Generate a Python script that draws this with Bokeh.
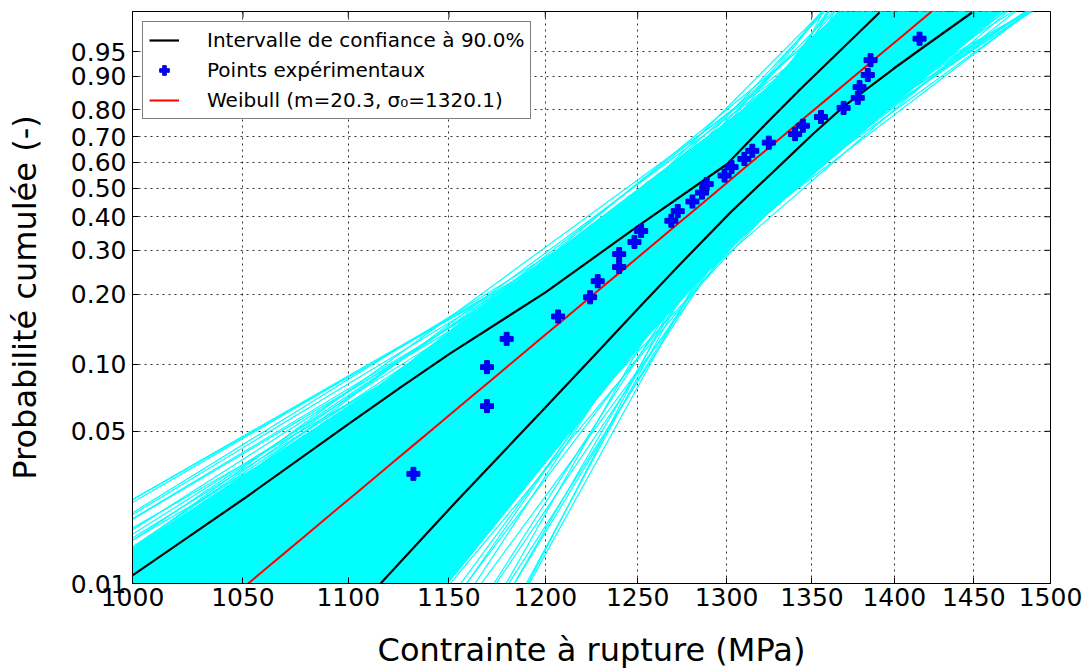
import numpy as np
from bokeh.plotting import figure
from bokeh.models import (Range1d, FixedTicker, Legend, LegendItem,
                          CustomJSTickFormatter, BasicTickFormatter)
from bokeh.embed import file_html
from bokeh.resources import INLINE

# ---------------- data ----------------
STRESS = [1132.1, 1169.5, 1169.5, 1179.7, 1206.8, 1224.0, 1228.1, 1239.8, 1239.8, 1248.2,
          1251.9, 1268.7, 1272.3, 1280.6, 1286.0, 1288.7, 1298.9, 1302.9, 1310.3, 1314.9,
          1324.5, 1340.0, 1344.6, 1355.4, 1369.0, 1377.6, 1378.7, 1383.7, 1385.4, 1415.7]
PROB = [0.032, 0.065, 0.097, 0.129, 0.161, 0.194, 0.226, 0.258, 0.290, 0.323,
        0.355, 0.387, 0.419, 0.452, 0.484, 0.516, 0.548, 0.581, 0.613, 0.645,
        0.677, 0.710, 0.742, 0.774, 0.806, 0.839, 0.871, 0.903, 0.935, 0.968]

M_FIT = 20.3
S0_FIT = 1320.1

CI_UP_STRESS = [1000.0, 1050.4, 1100.2, 1125.7, 1150.3, 1200.1, 1249.7, 1300.4, 1323.6, 1343.2, 1390.9]
CI_UP_PROB = [0.0109, 0.0246, 0.0541, 0.0789, 0.1109, 0.2034, 0.3684, 0.5931, 0.7543, 0.8656, 0.9895]
CI_LO_STRESS = [1115.8, 1155.2, 1199.8, 1226.0, 1250.0, 1271.6, 1302.3, 1331.4, 1350.3, 1369.1,
                1399.5, 1415.0, 1448.9]
CI_LO_PROB = [0.0100, 0.0247, 0.0637, 0.1087, 0.1733, 0.2557, 0.4146, 0.5895, 0.7085, 0.8113,
              0.9174, 0.9514, 0.9895]

# bootstrap Weibull lines: slope m and ln(-ln(1-P)) value at SIGMA_REF
SIGMA_REF = 1305.0
BOOT_M = [13.8, 14.1, 14.4, 14.7, 15.0, 15.3, 15.7, 16.1, 16.5, 17.0, 17.4, 18.0,
          13.9, 14.6, 15.0, 15.5, 16.3, 17.0, 17.7, 19.0, 20.0, 22.0, 24.4, 26.0, 29.0,
          14.0, 14.3, 14.8, 15.3, 15.6, 16.2, 16.8, 17.4, 17.7, 18.5, 15.6, 16.5, 18.5, 19.1,
          26, 28, 30, 32, 33, 35, 36, 37, 38, 40, 42, 43, 45, 44, 47,
          21, 23.8, 26, 29, 33, 38,
          18.4, 18, 20, 21, 22, 24, 25, 28, 30, 32, 35,
          19, 20.5, 22, 24, 26, 23, 27, 21, 19.5, 25, 20, 24, 27, 22]
BOOT_T = [-0.03, 0.02, -0.08, 0.05, -0.12, 0.0, -0.05, 0.08, -0.10, 0.12, 0.0, 0.18,
          0.0, -0.02, 0.15, 0.10, 0.20, 0.30, 0.485, 0.50, 0.55, 0.50, 0.586, 0.50, 0.42,
          -0.28, -0.33, -0.39, -0.35, -0.48, -0.56, -0.48, -0.70, -0.78, -0.65, -0.519, -0.62, -0.88, -0.837,
          -0.60, -0.75, -0.70, -0.80, -0.60, -0.45, -0.80, -0.35, -0.55, -0.70, -0.50, -0.25, -0.45, -0.60, -0.30,
          -1.0, -0.969, -1.0, -0.95, -0.9, -0.8,
          0.31, 0.45, 0.40, 0.30, 0.40, 0.25, 0.45, 0.30, 0.37, 0.20, 0.10,
          0.2, 0.1, -0.1, -0.3, -0.45, 0.15, 0.0, -0.25, -0.4, -0.2, -0.85, -0.9, -0.85, -0.95]
# dense core of the bootstrap fan
CORE_M = [16.0, 18.0, 30.0, 18.4, 26.0, 21.0, 26.0]
CORE_T = [0.04, -0.50, -0.80, 0.42, 0.35, -0.95, -0.95]

X_TICKS = [1000, 1050, 1100, 1150, 1200, 1250, 1300, 1350, 1400, 1450, 1500]
Y_TICK_PROBS = [0.01, 0.05, 0.10, 0.20, 0.30, 0.40, 0.50, 0.60, 0.70, 0.80, 0.90, 0.95]


def wb(p):
    p = np.asarray(p, dtype=float)
    return np.log(-np.log(1.0 - p))


FONT = "DejaVu Sans"
y_ticks = [float(v) for v in wb(Y_TICK_PROBS)]
xt = FixedTicker(ticks=X_TICKS, minor_ticks=[])
yt = FixedTicker(ticks=y_ticks, minor_ticks=[])
x_range = Range1d(1000, 1500)
y_range = Range1d(float(wb(0.01)), float(wb(0.99)))

p = figure(width=1083, height=672, x_axis_type="log",
           x_range=x_range, y_range=y_range,
           output_backend="svg", toolbar_location=None,
           min_border_left=132, min_border_right=33, min_border_top=11, min_border_bottom=89)
p.outline_line_color = "black"
p.outline_line_width = 1
p.background_fill_color = "white"

# bootstrap fan
grid = np.geomspace(1000, 1500, 300)
core = np.array([t + m * np.log(grid / SIGMA_REF) for m, t in zip(CORE_M, CORE_T)])
p.varea(x=grid, y1=core.min(axis=0), y2=core.max(axis=0), fill_color="#00ffff", fill_alpha=1)
xs, ys = [], []
xe = np.array([x_range.start, x_range.end], dtype=float)
for m, t in zip(BOOT_M, BOOT_T):
    xs.append(list(xe))
    ys.append(list(t + m * np.log(xe / SIGMA_REF)))
p.multi_line(xs=xs, ys=ys, line_color="#00ffff", line_width=1.2)

# confidence interval
ci_up = p.line(CI_UP_STRESS, wb(CI_UP_PROB), line_color="black", line_width=2.2)
p.line(CI_LO_STRESS, wb(CI_LO_PROB), line_color="black", line_width=2.2)

# fitted Weibull
sx = np.geomspace(1000, 1500, 50)
red = p.line(sx, M_FIT * np.log(sx / S0_FIT), line_color="#ff0000", line_width=2)

# experimental points
pts = p.scatter(STRESS, wb(PROB), marker="plus", size=13, fill_color="#0000ff",
                line_color="#0000cc", line_width=1)

# inward ticks on the top and right frame edges
p.scatter(X_TICKS, [y_range.end] * len(X_TICKS), marker="dash", angle=np.pi / 2, size=12,
          line_color="black", line_width=1)
p.scatter([x_range.end] * len(y_ticks), y_ticks, marker="dash", size=12,
          line_color="black", line_width=1)

# axes
xa = p.xaxis[0]
xa.ticker = xt
xa.formatter = BasicTickFormatter(use_scientific=False)
ya = p.yaxis[0]
ya.ticker = yt
ya.formatter = CustomJSTickFormatter(code="return (1 - Math.exp(-Math.exp(tick))).toFixed(2);")
for ax in (xa, ya):
    ax.major_tick_in = 6
    ax.major_tick_out = 0
    ax.minor_tick_line_color = None
    ax.axis_line_color = "black"
    ax.major_tick_line_color = "black"
    ax.major_label_text_font = FONT
    ax.major_label_text_font_size = "25px"
    ax.major_label_text_color = "black"
    ax.axis_label_text_font = FONT
    ax.axis_label_text_font_size = "32px"
    ax.axis_label_text_font_style = "normal"
    ax.axis_label_text_color = "black"
xa.axis_label = "Contrainte à rupture (MPa)"
ya.axis_label = "Probabilité cumulée (-)"
xa.major_label_standoff = 4
xa.axis_label_standoff = 22
ya.major_label_standoff = 6
ya.axis_label_standoff = 24

p.xgrid.ticker = xt
p.ygrid.ticker = yt
for g in (p.xgrid[0], p.ygrid[0]):
    g.grid_line_color = "black"
    g.grid_line_dash = "2 4"
    g.grid_line_width = 1
    g.grid_line_alpha = 0.8

legend = Legend(items=[
    LegendItem(label="Intervalle de confiance à 90.0%", renderers=[ci_up]),
    LegendItem(label="Points expérimentaux", renderers=[pts]),
    LegendItem(label="Weibull (m=20.3, σ₀=1320.1)", renderers=[red]),
], location="top_left", margin=10, padding=6, spacing=6, glyph_width=30, glyph_height=24,
    label_standoff=28, label_height=24, label_text_font=FONT, label_text_font_size="20px",
    label_text_color="black",
    border_line_color="black", border_line_width=1, background_fill_alpha=1)
p.add_layout(legend)

open("out.html", "w").write(file_html(p, INLINE))
